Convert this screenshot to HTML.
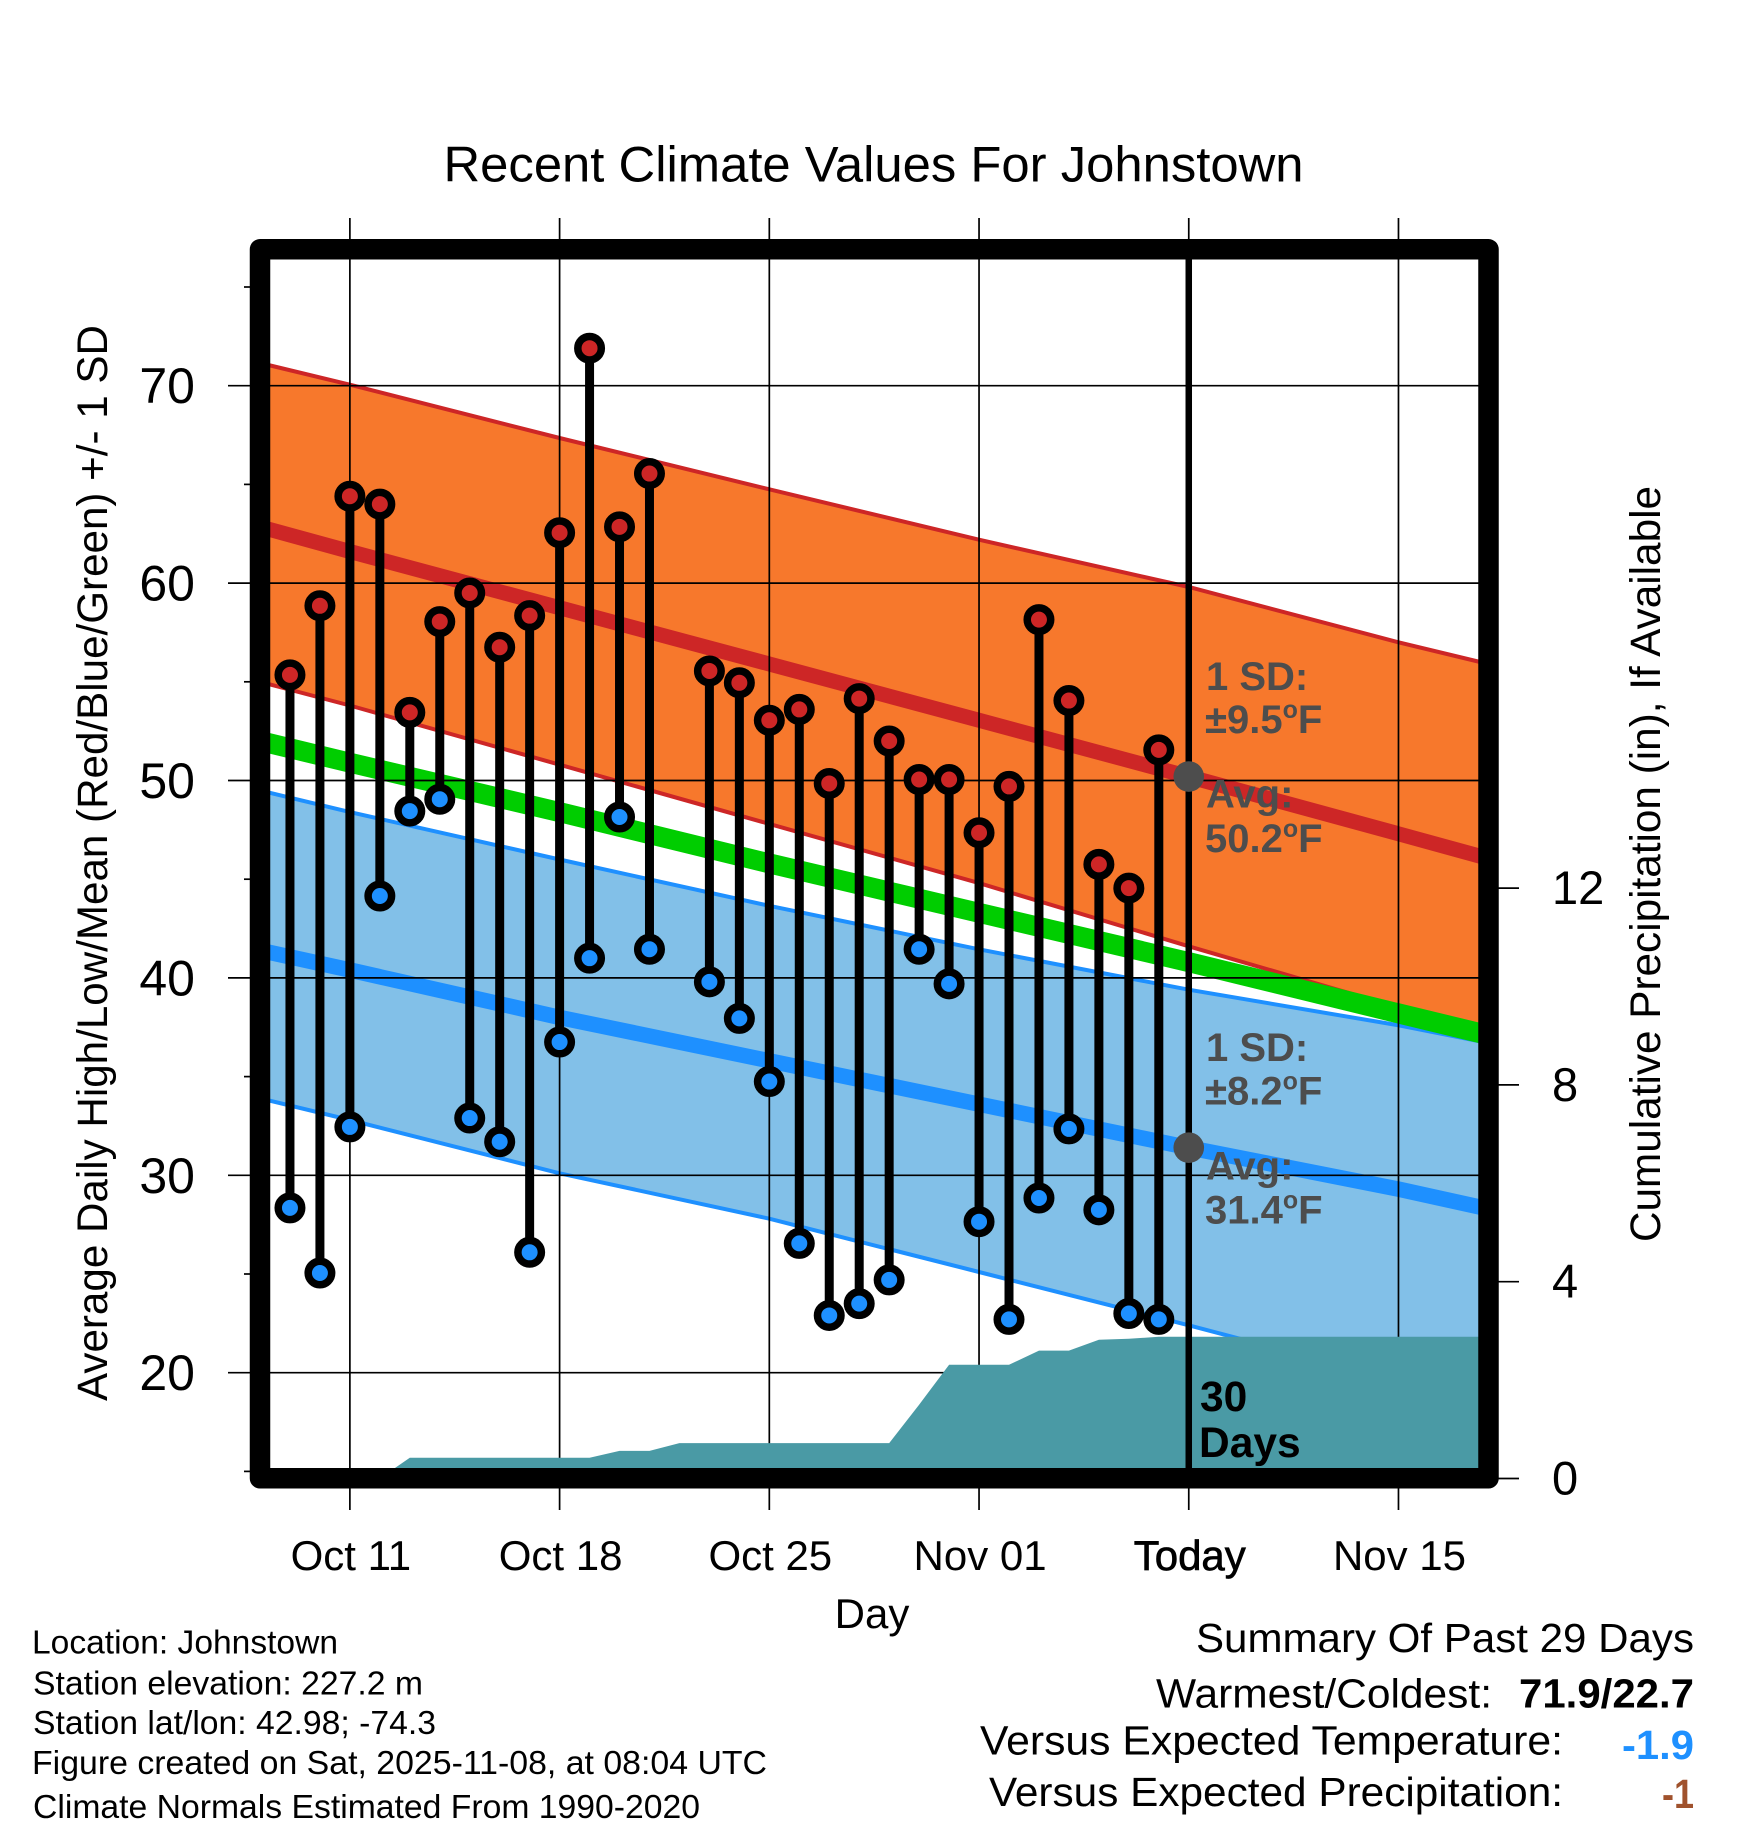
<!DOCTYPE html>
<html lang="en">
<head>
<meta charset="utf-8">
<title>Recent Climate Values For Johnstown</title>
<style>
html,body{margin:0;padding:0;background:#fff;width:1748px;height:1828px;overflow:hidden}
svg{display:block;font-family:"Liberation Sans",Arial,sans-serif}
</style>
</head>
<body>
<svg id="chart" xmlns="http://www.w3.org/2000/svg" width="1748" height="1828" viewBox="0 0 1748 1828">
  <rect width="1748" height="1828" fill="#fff"/>
  <g id="bands"></g>
  <g id="grid"></g>
  <g id="precip"></g>
  <g id="today"></g>
  <g id="obs"></g>
  <g id="frame"></g>
  <g id="labels" fill="#000"></g>

  <text x="873.5" y="181.5" font-size="50" text-anchor="middle" textLength="860" lengthAdjust="spacingAndGlyphs">Recent Climate Values For Johnstown</text>
  <text transform="translate(107,863) rotate(-90)" font-size="43" text-anchor="middle" textLength="1076" lengthAdjust="spacingAndGlyphs">Average Daily High/Low/Mean (Red/Blue/Green) +/- 1 SD</text>
  <text transform="translate(1660,864) rotate(-90)" font-size="43" text-anchor="middle" textLength="756" lengthAdjust="spacingAndGlyphs">Cumulative Precipitation (in), If Available</text>
  <text x="872" y="1628" font-size="42" text-anchor="middle">Day</text>

  <g fill="#4d4d4d" font-weight="bold" font-size="40">
    <text x="1206" y="690">1 SD:</text>
    <text x="1205" y="733">±9.5<tspan font-size="25" dy="-15">o</tspan><tspan dy="15">F</tspan></text>
    <text x="1206" y="807.5">Avg:</text>
    <text x="1205" y="852">50.2<tspan font-size="25" dy="-15">o</tspan><tspan dy="15">F</tspan></text>
  </g>
  <g fill="#4d4d4d" font-weight="bold" font-size="40">
    <text x="1206" y="1061">1 SD:</text>
    <text x="1205" y="1104.5">±8.2<tspan font-size="25" dy="-15">o</tspan><tspan dy="15">F</tspan></text>
    <text x="1206" y="1179.5">Avg:</text>
    <text x="1205" y="1223.5">31.4<tspan font-size="25" dy="-15">o</tspan><tspan dy="15">F</tspan></text>
  </g>
  <text x="1200" y="1411" font-size="42.5" font-weight="bold">30</text>
  <text x="1199" y="1457" font-size="42.5" font-weight="bold">Days</text>

  <g font-size="33">
    <text x="32" y="1653.5" textLength="306" lengthAdjust="spacingAndGlyphs">Location: Johnstown</text>
    <text x="33" y="1694.5" textLength="390" lengthAdjust="spacingAndGlyphs">Station elevation: 227.2 m</text>
    <text x="33" y="1734" textLength="403" lengthAdjust="spacingAndGlyphs">Station lat/lon: 42.98; -74.3</text>
    <text x="32" y="1774" textLength="735" lengthAdjust="spacingAndGlyphs">Figure created on Sat, 2025-11-08, at 08:04 UTC</text>
    <text x="33" y="1818" textLength="667" lengthAdjust="spacingAndGlyphs">Climate Normals Estimated From 1990-2020</text>
  </g>

  <g font-size="41">
    <text x="1196" y="1652" textLength="498" lengthAdjust="spacingAndGlyphs">Summary Of Past 29 Days</text>
    <text x="1156" y="1707.5" textLength="336" lengthAdjust="spacingAndGlyphs">Warmest/Coldest:</text>
    <text x="1519" y="1707.5" font-weight="bold" textLength="175" lengthAdjust="spacingAndGlyphs">71.9/22.7</text>
    <text x="980" y="1754.5" textLength="583" lengthAdjust="spacingAndGlyphs">Versus Expected Temperature:</text>
    <text x="1622" y="1759" font-weight="bold" fill="#1e90ff" textLength="72" lengthAdjust="spacingAndGlyphs">-1.9</text>
    <text x="989" y="1806" textLength="574" lengthAdjust="spacingAndGlyphs">Versus Expected Precipitation:</text>
    <text x="1662" y="1808" font-weight="bold" fill="#a0522d" textLength="32" lengthAdjust="spacingAndGlyphs">-1</text>
  </g>
</svg>

<script>
// ---- chart data ----
const obsDates = ["10-09","10-10","10-11","10-12","10-13","10-14","10-15","10-16","10-17","10-18","10-19","10-20","10-21","10-23","10-24","10-25","10-26","10-27","10-28","10-29","10-30","10-31","11-01","11-02","11-03","11-04","11-05","11-06","11-07"];
const obsHighs = [55.35,58.85,64.4,64.0,53.45,58.05,59.5,56.75,58.35,62.55,71.9,62.85,65.55,55.55,54.95,53.05,53.6,49.85,54.15,52.0,50.05,50.05,47.35,49.7,58.15,54.05,45.75,44.55,51.55];
const obsLows = [28.35,25.05,32.45,44.15,48.45,49.05,32.9,31.7,26.1,36.75,41.0,48.15,41.45,39.8,37.95,34.75,26.55,22.9,23.5,24.7,41.45,39.7,27.65,22.7,28.85,32.35,28.25,23.0,22.7];

const normalDates = ["10-08","10-11","10-18","10-25","11-01","11-08","11-15","11-18"];
const highMean = [62.85,61.6,58.75,55.9,53.05,50.2,47.3,46.05];
const highUpper = [71.15,70.05,67.35,64.75,62.2,59.8,57.0,55.9];
const highLower = [55.0,53.8,50.8,47.8,44.8,41.6,38.5,37.0];
const midMean = [52.0,50.9,48.4,45.8,43.3,40.8,38.2,37.1];
const lowMean = [41.4,40.4,38.0,35.8,33.6,31.4,29.3,28.3];
const lowUpper = [49.5,48.4,46.0,43.65,41.45,39.4,37.6,36.7];
const lowLower = [33.9,32.8,30.1,27.8,25.1,22.4,19.6,18.5];

const precipDates = ["10-12","10-13","10-19","10-20","10-21","10-22","10-29","10-30","10-31","11-02","11-03","11-04","11-05","11-06","11-07","11-18"];
const precipTotals = [0,0.42,0.42,0.56,0.56,0.72,0.72,1.5,2.31,2.31,2.6,2.6,2.82,2.84,2.88,2.88];

const xTickDates = ["10-11","10-18","10-25","11-01","11-08","11-15"];
const xTickLabels = ["Oct 11","Oct 18","Oct 25","Nov 01","Today","Nov 15"];
const yTickValues = [20,30,40,50,60,70];
const yMinorValues = [15,25,35,45,55,65,75];
const rightTickValues = [0,4,8,12];
const todayDate = "11-08";
const todayHighAvg = 50.2;
const todayLowAvg = 31.4;

// ---- axis functions ----
const SVG_NS = "http://www.w3.org/2000/svg";
function dayOffset(md) {
  const parts = md.split("-").map(Number);
  return (Date.UTC(2025, parts[0] - 1, parts[1]) - Date.UTC(2025, 9, 8)) / 86400000;
}
function xAxis(md) { return 260 + 29.96 * dayOffset(md); }
function yAxis(v) { return 1372.7 - (v - 20) * 19.74; }
function rightAxis(v) { return 1478.5 - v * 49.2; }

function make(parentId, tag, attrs) {
  const node = document.createElementNS(SVG_NS, tag);
  for (const key in attrs) node.setAttribute(key, attrs[key]);
  document.getElementById(parentId).appendChild(node);
  return node;
}
function linePoints(values) {
  return values.map((v, i) => xAxis(normalDates[i]).toFixed(1) + "," + yAxis(v).toFixed(1));
}

// ---- bands ----
const orangeBand = make("bands", "polygon", {points: linePoints(highUpper).concat(linePoints(highLower).reverse()).join(" "), fill: "#f7782c"});


const blueBand = make("bands", "polygon", {points: linePoints(lowUpper).concat(linePoints(lowLower).reverse()).join(" "), fill: "#82c0e8"});



const highUpperLine = make("bands", "polyline", {points: linePoints(highUpper).join(" "), fill: "none", stroke: "#cd2626", "stroke-width": 4});


const highLowerLine = make("bands", "polyline", {points: linePoints(highLower).join(" "), fill: "none", stroke: "#cd2626", "stroke-width": 4});


const lowUpperLine = make("bands", "polyline", {points: linePoints(lowUpper).join(" "), fill: "none", stroke: "#1e90ff", "stroke-width": 4});


const lowLowerLine = make("bands", "polyline", {points: linePoints(lowLower).join(" "), fill: "none", stroke: "#1e90ff", "stroke-width": 4});



const highMeanLine = make("bands", "polyline", {points: linePoints(highMean).join(" "), fill: "none", stroke: "#cd2626", "stroke-width": 15});


const midMeanLine = make("bands", "polyline", {points: linePoints(midMean).join(" "), fill: "none", stroke: "#00cd00", "stroke-width": 20});


const lowMeanLine = make("bands", "polyline", {points: linePoints(lowMean).join(" "), fill: "none", stroke: "#1e90ff", "stroke-width": 15.5});



// ---- grid and ticks ----
xTickDates.forEach(function (d) {
  const g = make("grid", "line", {x1: xAxis(d), x2: xAxis(d), y1: 218, y2: 1510, stroke: "#000", "stroke-width": 1.7});
  
  
});
yTickValues.forEach(function (v) {
  const g = make("grid", "line", {x1: 228, x2: 1480, y1: yAxis(v), y2: yAxis(v), stroke: "#000", "stroke-width": 1.7});
  
  
});
yMinorValues.forEach(function (v) {
  const g = make("grid", "line", {x1: 244, x2: 252, y1: yAxis(v), y2: yAxis(v), stroke: "#000", "stroke-width": 1.7});
  
  
});
rightTickValues.forEach(function (v) {
  const g = make("grid", "line", {x1: 1495, x2: 1519, y1: rightAxis(v), y2: rightAxis(v), stroke: "#000", "stroke-width": 1.7});
  
  
});

// ---- precipitation ----
const precipPts = precipDates.map((d, i) => xAxis(d).toFixed(1) + "," + rightAxis(precipTotals[i]).toFixed(1));
precipPts.push(xAxis(precipDates[precipDates.length - 1]).toFixed(1) + "," + rightAxis(0).toFixed(1));
precipPts.push(xAxis(precipDates[0]).toFixed(1) + "," + rightAxis(0).toFixed(1));
const precipArea = make("precip", "polygon", {points: precipPts.join(" "), fill: "#4a9aa5"});



// ---- today ----
const todayLine = make("today", "line", {x1: xAxis(todayDate), x2: xAxis(todayDate), y1: 259, y2: 1470, stroke: "#000", "stroke-width": 6.5});



// ---- observations ----
obsDates.forEach(function (d, i) {
  const x = xAxis(d);
  const stem = make("obs", "line", {x1: x, x2: x, y1: yAxis(obsHighs[i]), y2: yAxis(obsLows[i]), stroke: "#000", "stroke-width": 9});
  
  
});
obsDates.forEach(function (d, i) {
  const x = xAxis(d);
  const hi = make("obs", "circle", {cx: x, cy: yAxis(obsHighs[i]), r: 11.75, fill: "#cd2626", stroke: "#000", "stroke-width": 7.5});
  
  
  const lo = make("obs", "circle", {cx: x, cy: yAxis(obsLows[i]), r: 11.75, fill: "#1e90ff", stroke: "#000", "stroke-width": 7.5});
  
  
});

const todayHighDot = make("today", "circle", {cx: xAxis(todayDate), cy: yAxis(todayHighAvg), r: 15.3, fill: "#4d4d4d"});


const todayLowDot = make("today", "circle", {cx: xAxis(todayDate), cy: yAxis(todayLowAvg), r: 15.3, fill: "#4d4d4d"});



// ---- frame ----
const frame = make("frame", "rect", {x: 260, y: 249.3, width: 1228.5, height: 1229, fill: "none", stroke: "#000", "stroke-width": 20.5, "stroke-linejoin": "round"});



// ---- tick labels ----
yTickValues.forEach(function (v) {
  const t = make("labels", "text", {x: 195, y: yAxis(v) + 17.5, "font-size": 50, "text-anchor": "end"});
  t.textContent = String(v);
  
  
});
rightTickValues.forEach(function (v) {
  const t = make("labels", "text", {x: 1552, y: rightAxis(v) + 16, "font-size": 47});
  t.textContent = String(v);
  
  
});
xTickDates.forEach(function (d, i) {
  const t = make("labels", "text", {x: xAxis(d) + 1, y: 1570, "font-size": 42, "text-anchor": "middle"});
  if (xTickLabels[i] === "Today") { t.setAttribute("stroke", "#000"); t.setAttribute("stroke-width", "0.7"); }
  t.textContent = xTickLabels[i];
  
  
});
</script>
</body>
</html>
